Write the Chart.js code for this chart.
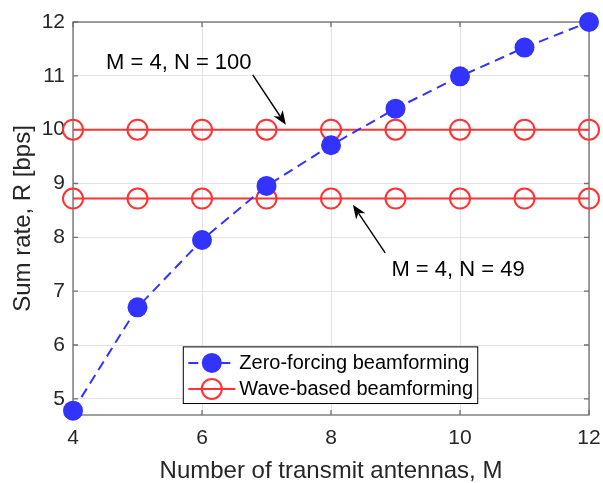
<!DOCTYPE html>
<html><head><meta charset="utf-8">
<script src="https://cdn.jsdelivr.net/npm/chart.js@4"></script>
<style>html,body{margin:0;padding:0;background:#fff}canvas{display:block}</style>
</head><body>
<canvas id="c" width="603" height="483"></canvas>
<script>
// ---- data ----
const antennas = [4, 5, 6, 7, 8, 9, 10, 11, 12];
const zeroForcing = [4.78, 6.70, 7.95, 8.955, 9.71, 10.39, 10.99, 11.525, 12.0];
const waveN100 = [10, 10, 10, 10, 10, 10, 10, 10, 10];
const waveN49 = [8.72, 8.72, 8.72, 8.72, 8.72, 8.72, 8.72, 8.72, 8.72];
const xTicks = [4, 6, 8, 10, 12];
const yTicks = [5, 6, 7, 8, 9, 10, 11, 12];
const seriesLabels = ['Zero-forcing beamforming', 'Wave-based beamforming'];
const xTitle = 'Number of transmit antennas, M';
const yTitle = 'Sum rate, R [bps]';
const noteTexts = ['M = 4, N = 100', 'M = 4, N = 49'];
// annotation anchor points in data units: text centre, arrow tail, arrow tip
const noteText = [[5.64, 11.245], [9.97, 7.40]];
const noteTail = [[6.786, 11.017], [8.84, 7.71]];
const noteTip = [[7.30, 10.09], [8.34, 8.605]];
// legend box corners in data units
const legendBox = [[5.71, 5.965], [10.275, 4.913]];

const BLUE = 'rgb(51,51,255)';
const RED = 'rgb(255,51,51)';
const FONT = '"Liberation Sans", Arial, Helvetica, sans-serif';
const AXIS = '#6e6e6e';
const TXT = '#262626';

const pts = ys => antennas.map((x, i) => ({x, y: ys[i]}));

const framePlugin = {
  id: 'frame',
  beforeDatasetsDraw(chart) {
    const {ctx, chartArea: a, scales: {x, y}} = chart;
    ctx.save();
    ctx.strokeStyle = AXIS;
    ctx.lineWidth = 1.3;
    ctx.strokeRect(a.left, a.top, a.right - a.left, a.bottom - a.top);
    const L = 5;
    ctx.beginPath();
    xTicks.forEach(v => {
      const px = x.getPixelForValue(v);
      ctx.moveTo(px, a.bottom); ctx.lineTo(px, a.bottom - L);
      ctx.moveTo(px, a.top); ctx.lineTo(px, a.top + L);
    });
    yTicks.forEach(v => {
      const py = y.getPixelForValue(v);
      ctx.moveTo(a.left, py); ctx.lineTo(a.left + L, py);
      ctx.moveTo(a.right, py); ctx.lineTo(a.right - L, py);
    });
    ctx.stroke();
    ctx.restore();
  },
  afterDatasetsDraw(chart) {
    const {ctx, scales: {x, y}} = chart;
    ctx.save();
    // annotations
    ctx.fillStyle = '#000';
    ctx.strokeStyle = '#000';
    ctx.font = '22px ' + FONT;
    ctx.textAlign = 'center';
    ctx.textBaseline = 'middle';
    noteTexts.forEach((t, i) => {
      ctx.fillText(t, x.getPixelForValue(noteText[i][0]), y.getPixelForValue(noteText[i][1]));
      const x0 = x.getPixelForValue(noteTail[i][0]), y0 = y.getPixelForValue(noteTail[i][1]);
      const x1 = x.getPixelForValue(noteTip[i][0]), y1 = y.getPixelForValue(noteTip[i][1]);
      const ang = Math.atan2(y1 - y0, x1 - x0);
      const hl = 14, hw = 5.5, notch = 10;
      ctx.lineWidth = 1.4;
      ctx.beginPath();
      ctx.moveTo(x0, y0);
      ctx.lineTo(x1 - Math.cos(ang) * notch, y1 - Math.sin(ang) * notch);
      ctx.stroke();
      ctx.beginPath();
      ctx.moveTo(x1, y1);
      const bx = x1 - Math.cos(ang) * hl, by = y1 - Math.sin(ang) * hl;
      ctx.lineTo(bx - Math.sin(ang) * hw, by + Math.cos(ang) * hw);
      ctx.lineTo(x1 - Math.cos(ang) * notch, y1 - Math.sin(ang) * notch);
      ctx.lineTo(bx + Math.sin(ang) * hw, by - Math.cos(ang) * hw);
      ctx.closePath();
      ctx.fill();
    });
    // legend
    const bx0 = x.getPixelForValue(legendBox[0][0]), bx1 = x.getPixelForValue(legendBox[1][0]);
    const by0 = y.getPixelForValue(legendBox[0][1]), by1 = y.getPixelForValue(legendBox[1][1]);
    ctx.fillStyle = '#fff';
    ctx.fillRect(bx0, by0, bx1 - bx0, by1 - by0);
    ctx.strokeStyle = '#000';
    ctx.lineWidth = 1;
    ctx.strokeRect(bx0, by0, bx1 - bx0, by1 - by0);
    const entries = [chart.data.datasets[0], chart.data.datasets[1]];
    ctx.font = '20px ' + FONT;
    ctx.textAlign = 'left';
    ctx.textBaseline = 'middle';
    entries.forEach((ds, i) => {
      const cy = by0 + 16 + i * 26;
      const lx0 = bx0 + 5, lx1 = bx0 + 52, mx = (lx0 + lx1) / 2;
      ctx.save();
      ctx.strokeStyle = ds.borderColor;
      ctx.lineWidth = ds.borderWidth;
      ctx.setLineDash(ds.borderDash || []);
      ctx.beginPath(); ctx.moveTo(lx0, cy); ctx.lineTo(lx1, cy); ctx.stroke();
      ctx.setLineDash([]);
      ctx.beginPath();
      ctx.arc(mx, cy, ds.pointRadius, 0, Math.PI * 2);
      ctx.fillStyle = ds.pointBackgroundColor;
      ctx.fill();
      if (ds.pointBorderWidth > 0) {
        ctx.lineWidth = ds.pointBorderWidth;
        ctx.strokeStyle = ds.pointBorderColor;
        ctx.stroke();
      }
      ctx.restore();
      ctx.fillStyle = '#000';
      ctx.fillText(seriesLabels[i], bx0 + 56, cy + 1);
    });
    ctx.restore();
  }
};

new Chart(document.getElementById('c'), {
  type: 'line',
  data: {
    datasets: [
      {label: seriesLabels[0], data: pts(zeroForcing), borderColor: BLUE, borderWidth: 2,
       borderDash: [10, 6], pointRadius: 10, pointBackgroundColor: BLUE, pointBorderWidth: 0,
       pointBorderColor: BLUE, clip: false, tension: 0},
      {label: seriesLabels[1], data: pts(waveN100), borderColor: RED, borderWidth: 2,
       pointRadius: 10, pointBackgroundColor: 'rgba(255,255,255,0)', pointBorderColor: RED,
       pointBorderWidth: 2, clip: false},
      {label: seriesLabels[1], data: pts(waveN49), borderColor: RED, borderWidth: 2,
       pointRadius: 10, pointBackgroundColor: 'rgba(255,255,255,0)', pointBorderColor: RED,
       pointBorderWidth: 2, clip: false}
    ]
  },
  options: {
    responsive: false,
    animation: false,
    events: [],
    layout: {padding: {top: 22, right: 14, left: 0, bottom: 0}},
    plugins: {legend: {display: false}, tooltip: {enabled: false}},
    scales: {
      x: {
        type: 'linear', min: 4, max: 12,
        afterFit: s => { s.height = 68; s.paddingLeft = 0; s.paddingRight = 0; },
        afterBuildTicks: s => { s.ticks = xTicks.map(v => ({value: v})); },
        grid: {color: '#e3e3e3', lineWidth: 1, drawTicks: false},
        border: {display: false},
        ticks: {color: TXT, font: {family: FONT, size: 21}, padding: 11, maxRotation: 0},
        title: {display: true, text: xTitle, color: TXT, font: {family: FONT, size: 24, lineHeight: 1}, padding: {top: 0, bottom: 0}}
      },
      y: {
        type: 'linear', min: 4.7, max: 12,
        afterFit: s => { s.width = 73; s.paddingTop = 0; s.paddingBottom = 0; },
        afterBuildTicks: s => { s.ticks = yTicks.map(v => ({value: v})); },
        grid: {color: '#e3e3e3', lineWidth: 1, drawTicks: false},
        border: {display: false},
        ticks: {color: TXT, font: {family: FONT, size: 21}, padding: 8},
        title: {display: true, text: yTitle, color: TXT, font: {family: FONT, size: 24, lineHeight: 1}, padding: {top: 11, bottom: 0}}
      }
    }
  },
  plugins: [framePlugin]
});
</script>
</body></html>
